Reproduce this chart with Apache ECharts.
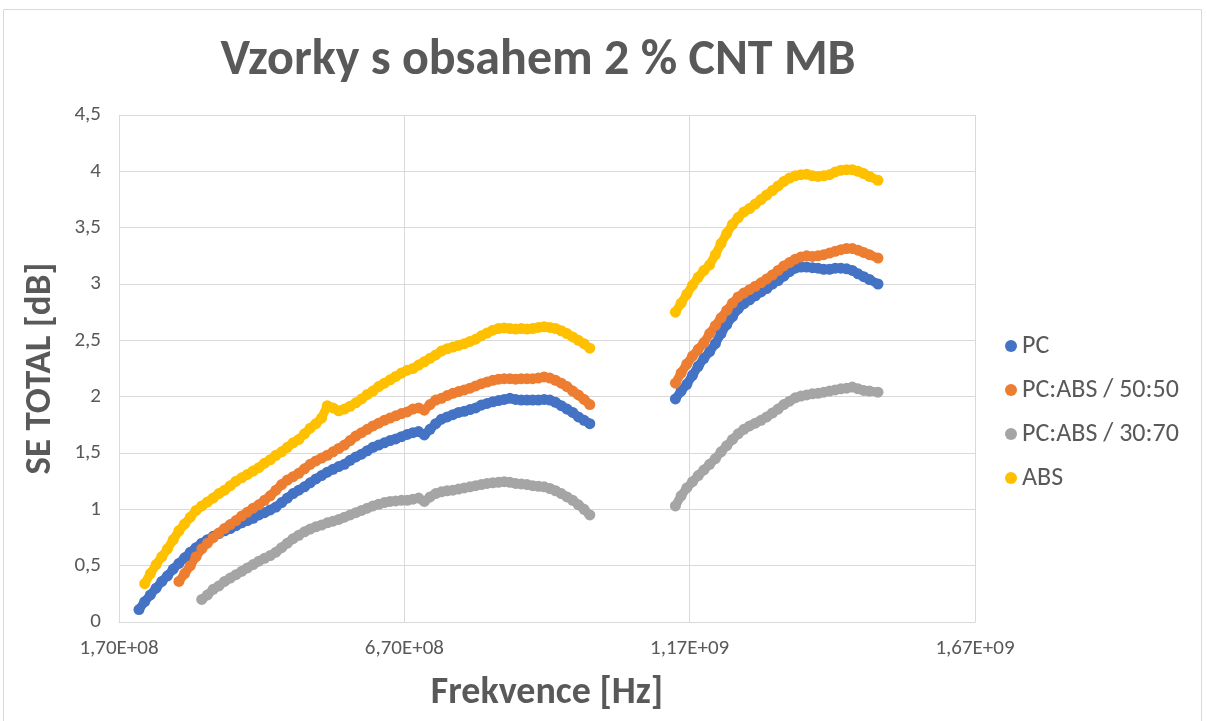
<!DOCTYPE html>
<html>
<head>
<meta charset="utf-8">
<script src="https://cdn.jsdelivr.net/npm/echarts@6/dist/echarts.min.js"></script>
<style>
html, body { margin: 0; padding: 0; background: #fff; }
#chart { width: 1207px; height: 721px; }
</style>
</head>
<body>
<div id="chart"></div>
<script>
// frekvence v MHz, prvni usek
var freq1 = [205, 215, 225, 235, 245, 255, 265, 275, 285, 295,
    305, 315, 325, 335, 345, 355, 365, 375, 385, 395,
    405, 415, 425, 435, 445, 455, 465, 475, 485, 495,
    505, 515, 525, 535, 545, 555, 565, 575, 585, 595,
    605, 615, 625, 635, 645, 655, 665, 675, 685, 695,
    705, 715, 725, 735, 745, 755, 765, 775, 785, 795,
    805, 815, 825, 835, 845, 855, 865, 875, 885, 895,
    905, 915, 925, 935, 945, 955, 965, 975, 985, 995];

var pc1 = [0.11, 0.18, 0.24, 0.30, 0.36, 0.41, 0.47, 0.52, 0.57, 0.62,
    0.66, 0.70, 0.73, 0.76, 0.785, 0.81, 0.83, 0.855, 0.88, 0.90,
    0.92, 0.95, 0.97, 0.995, 1.02, 1.06, 1.10, 1.14, 1.17, 1.20,
    1.235, 1.27, 1.30, 1.33, 1.355, 1.38, 1.40, 1.435, 1.465, 1.49,
    1.52, 1.55, 1.57, 1.59, 1.61, 1.625, 1.645, 1.665, 1.68, 1.69,
    1.66, 1.71, 1.76, 1.80, 1.82, 1.84, 1.86, 1.87, 1.885, 1.90,
    1.925, 1.94, 1.955, 1.965, 1.975, 1.985, 1.975, 1.97, 1.97, 1.97,
    1.97, 1.975, 1.97, 1.95, 1.92, 1.89, 1.86, 1.82, 1.79, 1.76];

var mix50_1 = [null, null, null, null, null, null, null, 0.36, 0.43, 0.50,
    0.58, 0.65, 0.70, 0.75, 0.79, 0.83, 0.865, 0.90, 0.94, 0.975,
    1.01, 1.04, 1.08, 1.12, 1.17, 1.22, 1.26, 1.29, 1.32, 1.36,
    1.40, 1.43, 1.455, 1.48, 1.51, 1.54, 1.57, 1.61, 1.65, 1.68,
    1.71, 1.74, 1.765, 1.79, 1.81, 1.83, 1.85, 1.865, 1.89, 1.90,
    1.88, 1.93, 1.97, 1.985, 2.01, 2.03, 2.045, 2.06, 2.075, 2.095,
    2.115, 2.13, 2.145, 2.155, 2.16, 2.16, 2.155, 2.16, 2.16, 2.16,
    2.165, 2.175, 2.165, 2.145, 2.12, 2.09, 2.05, 2.015, 1.975, 1.93];

var mix30_1 = [null, null, null, null, null, null, null, null, null, null,
    null, 0.20, 0.24, 0.29, 0.32, 0.36, 0.39, 0.42, 0.45, 0.48,
    0.51, 0.54, 0.565, 0.59, 0.62, 0.66, 0.70, 0.74, 0.77, 0.80,
    0.825, 0.845, 0.86, 0.88, 0.895, 0.91, 0.93, 0.95, 0.97, 0.99,
    1.01, 1.03, 1.045, 1.06, 1.07, 1.075, 1.08, 1.08, 1.09, 1.10,
    1.07, 1.11, 1.14, 1.155, 1.165, 1.17, 1.18, 1.19, 1.20, 1.21,
    1.22, 1.23, 1.235, 1.24, 1.245, 1.24, 1.23, 1.225, 1.22, 1.21,
    1.205, 1.20, 1.185, 1.165, 1.14, 1.11, 1.08, 1.04, 1.00, 0.95];

var abs1 = [null, 0.34, 0.43, 0.51, 0.58, 0.65, 0.73, 0.81, 0.87, 0.93,
    0.99, 1.03, 1.065, 1.10, 1.14, 1.17, 1.21, 1.25, 1.28, 1.31,
    1.34, 1.37, 1.41, 1.44, 1.48, 1.51, 1.55, 1.59, 1.62, 1.67,
    1.72, 1.76, 1.81, 1.92, 1.90, 1.875, 1.89, 1.915, 1.945, 1.98,
    2.02, 2.05, 2.09, 2.12, 2.15, 2.18, 2.21, 2.235, 2.25, 2.28,
    2.31, 2.34, 2.37, 2.405, 2.425, 2.44, 2.455, 2.47, 2.49, 2.51,
    2.54, 2.565, 2.59, 2.605, 2.61, 2.605, 2.60, 2.605, 2.60, 2.605,
    2.615, 2.62, 2.615, 2.605, 2.585, 2.56, 2.53, 2.50, 2.47, 2.43];

// druhy usek
var freq2 = [1145, 1155, 1165, 1175, 1185, 1195, 1205, 1215, 1225, 1235,
    1245, 1255, 1265, 1275, 1285, 1295, 1305, 1315, 1325, 1335,
    1345, 1355, 1365, 1375, 1385, 1395, 1405, 1415, 1425, 1435,
    1445, 1455, 1465, 1475, 1485, 1500];

var pc2 = [1.98, 2.05, 2.11, 2.19, 2.27, 2.34, 2.40, 2.47, 2.56, 2.64,
    2.71, 2.78, 2.825, 2.86, 2.895, 2.93, 2.96, 3.00, 3.03, 3.07,
    3.11, 3.14, 3.15, 3.15, 3.145, 3.14, 3.13, 3.13, 3.14, 3.14,
    3.135, 3.12, 3.09, 3.065, 3.04, 3.00];

var mix50_2 = [2.12, 2.21, 2.29, 2.36, 2.42, 2.48, 2.56, 2.63, 2.70, 2.765,
    2.83, 2.885, 2.92, 2.95, 2.98, 3.01, 3.045, 3.08, 3.12, 3.16,
    3.19, 3.22, 3.24, 3.25, 3.245, 3.25, 3.26, 3.275, 3.29, 3.305,
    3.315, 3.315, 3.30, 3.28, 3.26, 3.23];

var mix30_2 = [1.03, 1.12, 1.19, 1.245, 1.30, 1.35, 1.40, 1.45, 1.51, 1.565,
    1.62, 1.67, 1.71, 1.74, 1.765, 1.79, 1.82, 1.855, 1.89, 1.93,
    1.96, 1.99, 2.005, 2.015, 2.025, 2.03, 2.04, 2.05, 2.06, 2.07,
    2.075, 2.085, 2.07, 2.055, 2.05, 2.04];

var abs2 = [2.75, 2.83, 2.91, 2.99, 3.06, 3.12, 3.17, 3.26, 3.36, 3.45,
    3.53, 3.59, 3.64, 3.67, 3.71, 3.75, 3.79, 3.83, 3.87, 3.91,
    3.94, 3.96, 3.97, 3.975, 3.96, 3.955, 3.96, 3.97, 3.995, 4.01,
    4.015, 4.015, 4.00, 3.98, 3.955, 3.92];

var seriesNames = ['PC', 'PC:ABS / 50:50', 'PC:ABS / 30:70', 'ABS'];
var seriesColors = ['#4472C4', '#ED7D31', '#A5A5A5', '#FFC000'];

// osa x zacina na 1,70E+08 -> hodnoty posunute o 170 MHz
var X0 = 170;

function points(a, b) {
    var out = [];
    for (var i = 0; i < freq1.length; i++) {
        if (a[i] != null) out.push([freq1[i] - X0, a[i]]);
    }
    out.push([freq2[0] - X0, '-']); // mezera mezi useky
    for (var j = 0; j < freq2.length; j++) {
        if (b[j] != null) out.push([freq2[j] - X0, b[j]]);
    }
    return out;
}

function expLabel(v) {
    var hz = Math.round((v + X0) * 1e6);
    var e = Math.floor(Math.log10(hz));
    var m = hz / Math.pow(10, e);
    return m.toFixed(2).replace('.', ',') + 'E+' + (e < 10 ? '0' : '') + e;
}

var font = 'Carlito, Lato, sans-serif';
var textColor = '#595959';
var gridColor = '#d9d9d9';

var myChart = echarts.init(document.getElementById('chart'));

var data = [
    points(pc1, pc2),
    points(mix50_1, mix50_2),
    points(mix30_1, mix30_2),
    points(abs1, abs2)
];

var series = [];
for (var k = 0; k < 4; k++) {
    series.push({
        name: seriesNames[k],
        type: 'line',
        symbol: 'circle',
        symbolSize: 11,
        showSymbol: true,
        showAllSymbol: true,
        connectNulls: false,
        lineStyle: { color: seriesColors[k], width: 9 },
        itemStyle: { color: seriesColors[k], opacity: 1 },
        emphasis: { disabled: true },
        data: data[k]
    });
}

var option = {
    animation: false,
    color: seriesColors,
    graphic: [
        {
            type: 'rect',
            shape: { x: 3.5, y: 9.5, width: 1198, height: 720 },
            style: { fill: 'none', stroke: gridColor, lineWidth: 1 }
        },
        {
            type: 'text',
            x: 538, y: 61,
            style: {
                text: 'Vzorky s obsahem 2 % CNT MB',
                font: 'bold 50px ' + font,
                fill: textColor,
                textAlign: 'center',
                textVerticalAlign: 'middle'
            }
        }
    ],
    legend: {
        orient: 'vertical',
        left: 1000,
        top: 328,
        itemGap: 18,
        icon: 'circle',
        itemWidth: 12,
        itemHeight: 12,
        textStyle: { fontFamily: font, fontSize: 26, color: textColor },
        data: seriesNames
    },
    grid: { left: 119, right: 232, top: 115, bottom: 99 },
    xAxis: {
        type: 'value',
        min: 0,
        max: 1500,
        interval: 500,
        name: 'Frekvence [Hz]',
        nameLocation: 'middle',
        nameGap: 52,
        nameTextStyle: { fontFamily: font, fontSize: 38, fontWeight: 'bold', color: textColor },
        axisLine: { show: true, lineStyle: { color: gridColor } },
        axisTick: { show: false },
        splitLine: { show: true, lineStyle: { color: gridColor } },
        axisLabel: {
            formatter: expLabel,
            fontFamily: font, fontSize: 21, color: textColor, margin: 16
        }
    },
    yAxis: {
        type: 'value',
        min: 0,
        max: 4.5,
        interval: 0.5,
        name: 'SE TOTAL [dB]',
        nameLocation: 'middle',
        nameGap: 60,
        nameRotate: 90,
        nameTextStyle: { fontFamily: font, fontSize: 37, fontWeight: 'bold', color: textColor },
        axisLine: { show: false },
        axisTick: { show: false },
        splitLine: { show: true, lineStyle: { color: gridColor } },
        axisLabel: {
            formatter: function (v) { return String(v).replace('.', ','); },
            fontFamily: font, fontSize: 21, color: textColor, margin: 18
        }
    },
    series: series
};

myChart.setOption(option, true);
</script>
</body>
</html>
